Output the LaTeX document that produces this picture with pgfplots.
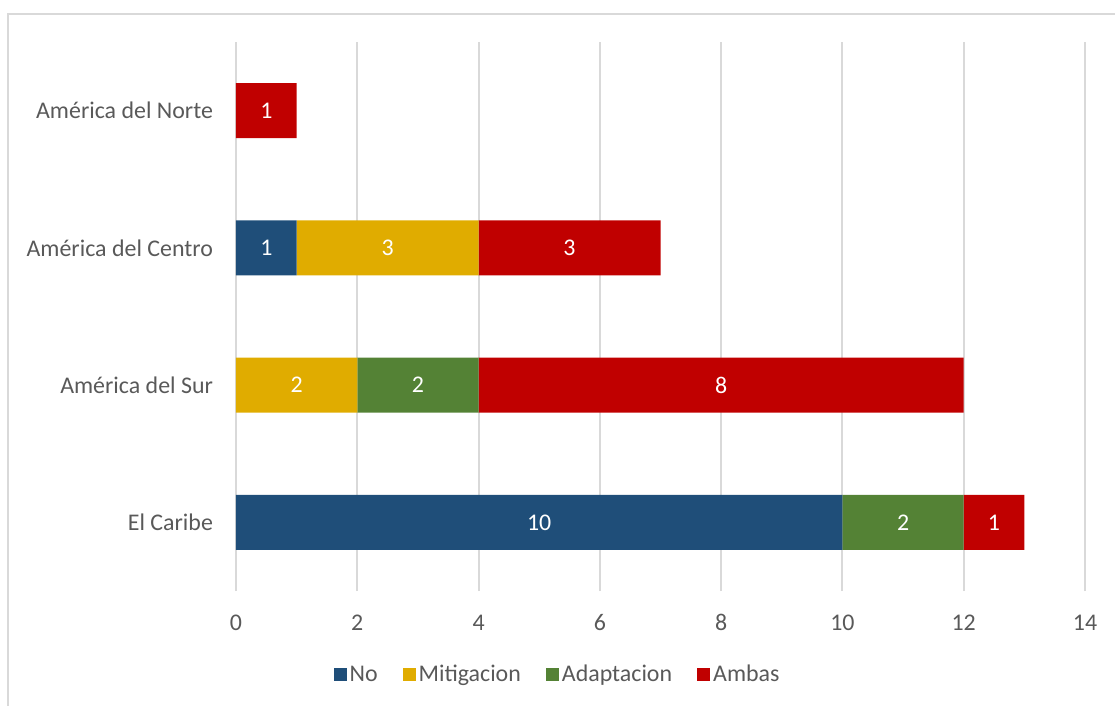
\documentclass[border=0pt]{standalone}
\usepackage{pgfplots}
\pgfplotsset{compat=1.18}
\usepackage{fontspec}
\setmainfont{Carlito}
\definecolor{cNo}{HTML}{1F4E79}
\definecolor{cMit}{HTML}{E0AC00}
\definecolor{cAda}{HTML}{548235}
\definecolor{cAmb}{HTML}{C00000}
\definecolor{gridc}{HTML}{D9D9D9}
\definecolor{txt}{HTML}{595959}
\begin{document}
\begin{tikzpicture}
\useasboundingbox (-118bp,-57.5bp) rectangle (439.5bp,295.5bp);
\draw[gridc, line width=1bp] (-114bp,-57.5bp) -- (-114bp,288.5bp) -- (439.5bp,288.5bp);
\begin{axis}[
  at={(0,0)}, anchor=south west,
  scale only axis, width=424.5bp, height=274.5bp,
  xbar stacked, bar width=27.5bp,
  xmin=0, xmax=14, ymin=-0.5, ymax=3.5,
  xtick={0,2,...,14}, ytick={0,1,2,3},
  yticklabels={El Caribe, América del Sur, América del Centro, América del Norte},
  axis line style={draw=none}, major tick style={draw=none},
  xmajorgrids, grid style={gridc, line width=1bp},
  ticklabel style={font=\fontsize{12}{14}\selectfont, text=txt},
  /pgf/number format/assume math mode=true,
  xticklabel style={anchor=base, yshift=-19.5bp},
  yticklabel style={anchor=east, xshift=-8bp},
  point meta=explicit,
  nodes near coords={\makebox[0pt]{\pgfmathfloatifflags{\pgfplotspointmeta}{0}{}{\pgfmathprintnumber{\pgfplotspointmeta}}}},
  every node near coord/.append style={
    /utils/exec={\pgfkeys{/pgf/fpu=true,/pgf/fpu/output format=fixed}\pgfmathsetmacro\labshift{-\pgfplotspointmeta*0.0}\pgfkeys{/pgf/fpu=false}},
    xshift=\labshift bp, inner xsep=0pt, text=white, font=\fontsize{12}{14}\selectfont},
  legend style={at={(0.3793,-0.153)}, anchor=center, draw=none, fill=none,
    legend columns=4, font=\fontsize{12}{14}\selectfont, text=txt,
    /tikz/every even column/.append style={column sep=11bp},
    nodes={inner sep=1.5bp}},
  legend image code/.code={\fill[#1] (0bp,-3.25bp) rectangle (6.5bp,3.25bp);},
]
\addplot[fill=cNo, draw=none] coordinates {(10,0) [10] (0,1) [0] (1,2) [1] (0,3) [0]};
\addplot[fill=cMit, draw=none] coordinates {(0,0) [0] (2,1) [2] (3,2) [3] (0,3) [0]};
\addplot[fill=cAda, draw=none] coordinates {(2,0) [2] (2,1) [2] (0,2) [0] (0,3) [0]};
\addplot[fill=cAmb, draw=none] coordinates {(1,0) [1] (8,1) [8] (3,2) [3] (1,3) [1]};
\legend{No, Mitigacion, Adaptacion, Ambas}
\end{axis}
\end{tikzpicture}
\end{document}
